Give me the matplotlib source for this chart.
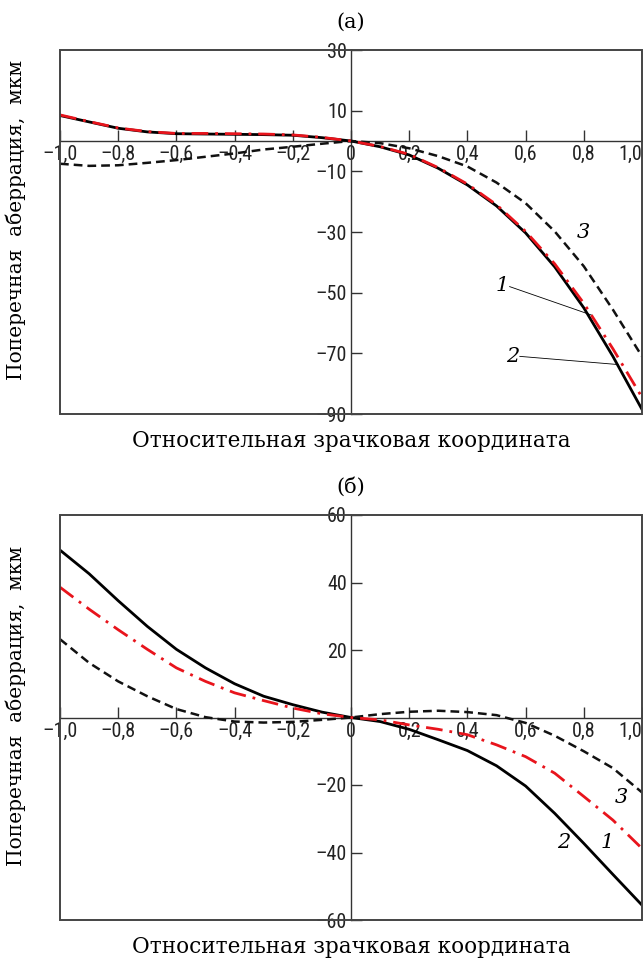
import numpy as np
import matplotlib.pyplot as plt
from matplotlib import font_manager
from matplotlib.ticker import FuncFormatter
from matplotlib.patches import Rectangle

# x grid
x = [-1.0, -0.9, -0.8, -0.7, -0.6, -0.5, -0.4, -0.3, -0.2, -0.1, 0.0,
     0.1, 0.2, 0.3, 0.4, 0.5, 0.6, 0.7, 0.8, 0.9, 1.0]

# panel (а)
a_curve1 = [8.4, 6.3, 4.2, 3.0, 2.4, 2.3, 2.2, 2.1, 1.9, 1.1, 0.0,
            -1.9, -4.6, -9.0, -14.5, -21.4, -30.3, -41.5, -55.0, -71.0, -88.5]
a_curve2 = [8.6, 6.4, 4.3, 3.1, 2.5, 2.5, 2.4, 2.3, 2.0, 1.2, 0.0,
            -1.8, -4.4, -8.8, -14.2, -21.0, -29.8, -40.5, -53.5, -68.5, -84.5]
a_curve3 = [-7.5, -8.2, -8.0, -7.2, -6.3, -5.2, -4.1, -2.8, -1.9, -0.9, 0.0,
            -0.7, -2.4, -5.0, -8.4, -13.7, -20.5, -29.8, -41.3, -55.6, -71.0]

# panel (б)
b_curve1 = [49.6, 42.6, 34.6, 27.0, 20.2, 14.7, 10.0, 6.3, 3.8, 1.6, 0.0,
            -1.2, -3.5, -6.6, -9.8, -14.3, -20.3, -28.4, -37.3, -46.5, -55.6]
b_curve2 = [38.6, 32.1, 26.0, 20.2, 14.7, 10.7, 7.3, 5.0, 2.8, 1.1, 0.0,
            -0.7, -2.2, -3.5, -5.1, -8.1, -11.6, -16.5, -23.4, -30.4, -38.8]
b_curve3 = [23.2, 16.2, 10.7, 6.3, 2.5, 0.1, -1.2, -1.5, -1.3, -0.7, 0.0,
            1.0, 1.7, 2.0, 1.6, 0.7, -1.6, -5.4, -10.0, -15.0, -22.2]

x_ticks = [-1.0, -0.8, -0.6, -0.4, -0.2, 0.0, 0.2, 0.4, 0.6, 0.8, 1.0]
a_yticks = [30, 10, -10, -30, -50, -70, -90]
b_yticks = [60, 40, 20, -20, -40, -60]

xlabel = 'Относительная зрачковая координата'
ylabel = 'Поперечная  аберрация,  мкм'

W, H = 643, 960
serif = 'DejaVu Serif'

# narrowest sans available for the tick numbers
installed = {f.name for f in font_manager.fontManager.ttflist}
narrow = 'DejaVu Sans'
narrow_stretch = 'normal'
for name in ['Liberation Sans Narrow', 'DejaVu Sans Condensed', 'Roboto Condensed', 'Liberation Sans']:
    if name in installed:
        narrow = name
        break
if narrow == 'DejaVu Sans':
    narrow_stretch = 'condensed'


def xfmt(v, pos):
    if abs(v) < 1e-9:
        return '0'
    return ('%.1f' % v).replace('.', ',').replace('-', '\u2013')


def yfmt(v, pos):
    return ('%d' % round(v)).replace('-', '\u2013')


def panel(rect, ylim, yticks, c1, c2, c3):
    ax = fig.add_axes(rect)
    ax.plot(x, c1, color='black', lw=2.0, solid_joinstyle='round', zorder=3)
    ax.plot(x, c2, color='#e8141c', lw=2.0, linestyle=(0, (6, 2.5, 1, 2.5)), zorder=4)
    ax.plot(x, c3, color='#111111', lw=1.8, linestyle=(0, (3.5, 2)), zorder=3)
    ax.set_xlim(-1, 1)
    ax.set_ylim(*ylim)
    for s in ['top', 'right']:
        ax.spines[s].set_visible(False)
    ax.spines['left'].set_position(('data', 0))
    ax.spines['bottom'].set_position(('data', 0))
    for s in ['left', 'bottom']:
        ax.spines[s].set_linewidth(1.0)
        ax.spines[s].set_color('#333333')
    ax.add_patch(Rectangle((0, 0), 1, 1, transform=ax.transAxes, fill=False,
                           edgecolor='#444444', lw=1.4, clip_on=False, zorder=5))
    ax.set_xticks(x_ticks)
    ax.set_yticks(yticks)
    ax.xaxis.set_major_formatter(FuncFormatter(xfmt))
    ax.yaxis.set_major_formatter(FuncFormatter(yfmt))
    ax.tick_params(direction='in', length=8, width=1.0, color='#333333',
                   labelsize=14.5, pad=3)
    for lab in ax.get_xticklabels() + ax.get_yticklabels():
        lab.set_family(narrow)
        lab.set_stretch(narrow_stretch)
        lab.set_color('#222222')
    # last label kept inside the picture
    ax.get_xticklabels()[-1].set_horizontalalignment('right')
    return ax


fig = plt.figure(figsize=(W / 100, H / 100), dpi=100)

L = 60 / W
Wd = 582 / W
ax_a = panel([L, 1 - 414 / H, Wd, 364 / H], (-90, 30), a_yticks, a_curve1, a_curve2, a_curve3)
ax_b = panel([L, 1 - 920 / H, Wd, 405 / H], (-60, 60), b_yticks, b_curve1, b_curve2, b_curve3)

# labels of curves, panel (а)
lab_kw = dict(fontsize=15, style='italic', family=serif, ha='center', va='center')
ax_a.text(0.80, -30.0, '3', **lab_kw)
ax_a.text(0.52, -47.5, '1', **lab_kw)
ax_a.text(0.555, -71.0, '2', **lab_kw)
ax_a.plot([0.545, 0.83], [-48.0, -57.5], color='black', lw=0.6)
ax_a.plot([0.58, 0.918], [-71.0, -73.7], color='black', lw=0.6)

# labels of curves, panel (б)
ax_b.text(0.93, -23.6, '3', **lab_kw)
ax_b.text(0.88, -37.0, '1', **lab_kw)
ax_b.text(0.73, -37.0, '2', **lab_kw)

# titles and axis labels
for top, bot, title in [(50, 414, '(а)'), (515, 920, '(б)')]:
    fig.text(351 / W, 1 - (top - 28) / H, title, family=serif, fontsize=15,
             ha='center', va='center')
    fig.text(351 / W, 1 - (bot + 27) / H, xlabel, family=serif, fontsize=15.5,
             ha='center', va='center')
    fig.text(16 / W, 1 - ((top + bot) / 2 - 12) / H, ylabel, family=serif, fontsize=14.5,
             rotation=90, ha='center', va='center')

fig.savefig('out.png', dpi=100)
